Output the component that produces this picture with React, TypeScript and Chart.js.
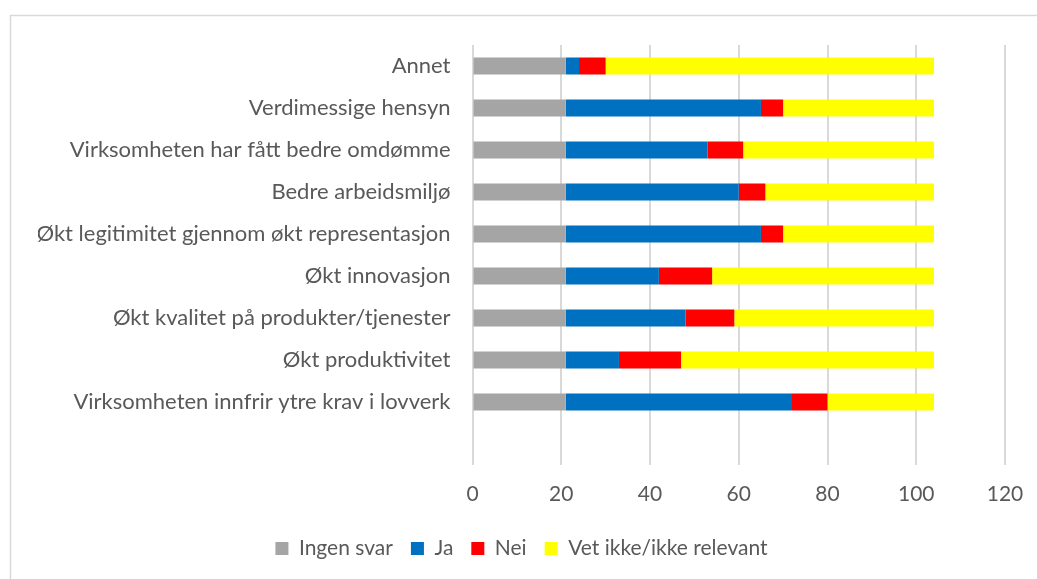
import React, { useEffect, useRef } from "react";
import { Chart, registerables } from "chart.js";

Chart.register(...registerables);

const categories = [
  "Annet",
  "Verdimessige hensyn",
  "Virksomheten har fått bedre omdømme",
  "Bedre arbeidsmiljø",
  "Økt legitimitet gjennom økt representasjon",
  "Økt innovasjon",
  "Økt kvalitet på produkter/tjenester",
  "Økt produktivitet",
  "Virksomheten innfrir ytre krav i lovverk",
  "",
];

const ingenSvar = [21, 21, 21, 21, 21, 21, 21, 21, 21, null];
const ja = [3, 44, 32, 39, 44, 21, 27, 12, 51, null];
const nei = [6, 5, 8, 6, 5, 12, 11, 14, 8, null];
const vetIkke = [74, 34, 43, 38, 34, 50, 45, 57, 24, null];

const xTicks = [0, 20, 40, 60, 80, 100, 120];

const FONT = "Lato, 'Open Sans', sans-serif";
const TEXT = "#595959";

const borderPlugin = {
  id: "outerBorder",
  beforeDraw(chart: any) {
    const ctx = chart.ctx;
    ctx.save();
    ctx.strokeStyle = "#d9d9d9";
    ctx.lineWidth = 1.5;
    ctx.strokeRect(10.5, 15.5, 1100, 700);
    ctx.restore();
  },
};

export default function App() {
  const ref = useRef<HTMLCanvasElement | null>(null);
  useEffect(() => {
    if (!ref.current) return;
    const chart = new Chart(ref.current, {
      type: "bar",
      data: {
        labels: categories,
        datasets: [
          { label: "Ingen svar", data: ingenSvar as any, backgroundColor: "#a5a5a5" },
          { label: "Ja", data: ja as any, backgroundColor: "#0070c0" },
          { label: "Nei", data: nei as any, backgroundColor: "#ff0000" },
          { label: "Vet ikke/ikke relevant", data: vetIkke as any, backgroundColor: "#ffff00" },
        ],
      },
      options: {
        indexAxis: "y",
        responsive: false,
        animation: false,
        datasets: {
          bar: { categoryPercentage: 1, barPercentage: 0.4 },
        },
        layout: { padding: { top: 45, right: 32, left: 38, bottom: 10 } },
        scales: {
          x: {
            stacked: true,
            min: 0,
            max: 120,
            afterBuildTicks(scale: any) {
              scale.ticks = xTicks.map((v) => ({ value: v }));
            },
            afterFit(scale: any) {
              scale.height = 55;
              scale.paddingLeft = 0;
              scale.paddingRight = 0;
            },
            grid: { color: "#d9d9d9", lineWidth: 2, drawTicks: false },
            border: { display: false },
            ticks: {
              color: TEXT,
              padding: 17,
              font: { family: FONT, size: 21 },
            },
          },
          y: {
            stacked: true,
            afterFit(scale: any) {
              scale.width = 434.5;
            },
            grid: { display: false },
            border: { display: false },
            ticks: {
              color: TEXT,
              padding: 14,
              autoSkip: false,
              font: { family: FONT, size: 22 },
            },
          },
        },
        plugins: {
          legend: {
            position: "bottom",
            labels: {
              color: TEXT,
              boxWidth: 13,
              boxHeight: 13,
              padding: 18,
              font: { family: FONT, size: 21 },
            },
          },
          tooltip: { enabled: false },
        },
      },
      plugins: [borderPlugin],
    });
    return () => chart.destroy();
  }, []);
  return (
    <div style={{ position: "fixed", left: 0, top: 0, width: 1037, height: 579, background: "#fff" }}>
      <canvas ref={ref} width={1037} height={579} />
    </div>
  );
}
